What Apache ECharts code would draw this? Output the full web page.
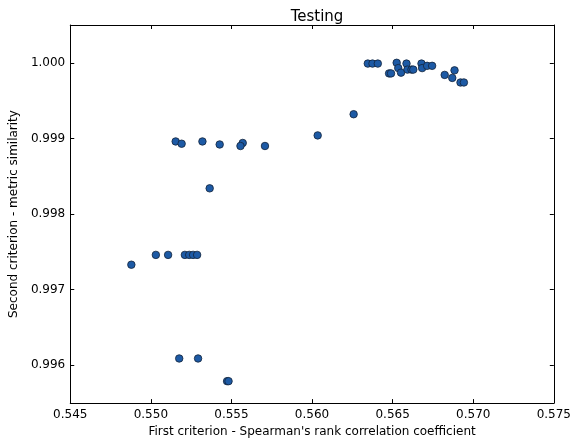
<!DOCTYPE html>
<html>
<head>
<meta charset="utf-8">
<script src="https://cdn.jsdelivr.net/npm/echarts@6/dist/echarts.min.js"></script>
<style>html,body{margin:0;padding:0;background:#fff}#c{width:574px;height:443px}</style>
</head>
<body>
<div id="c"></div>
<script>
const titleText = 'Testing';
const xName = "First criterion - Spearman's rank correlation coefficient";
const yName = 'Second criterion - metric similarity';
const xTicks = [0.545, 0.550, 0.555, 0.560, 0.565, 0.570, 0.575];
const yTicks = [0.996, 0.997, 0.998, 0.999, 1.000];
const xValues = [
  0.56346, 0.56375, 0.56408, 0.56478, 0.56490, 0.56525, 0.56535, 0.56552,
  0.56586, 0.56592, 0.56617, 0.56628, 0.56679, 0.56683, 0.56714, 0.56745,
  0.56823, 0.56884, 0.56870, 0.56921, 0.56942,
  0.55154, 0.55191, 0.55320, 0.55427, 0.55570, 0.55556, 0.55708, 0.56035, 0.56258, 0.55365,
  0.54879, 0.55031, 0.55107, 0.55211, 0.55238, 0.55262, 0.55287,
  0.55176, 0.55293, 0.55473, 0.55482
];
const yValues = [
  0.99999, 0.99999, 0.99999, 0.99986, 0.99986, 1.00000, 0.99993, 0.99987,
  0.99999, 0.99991, 0.99991, 0.99991, 0.99999, 0.99993, 0.99996, 0.99996,
  0.99984, 0.99990, 0.99980, 0.99974, 0.99974,
  0.99896, 0.99893, 0.99896, 0.99892, 0.99894, 0.99890, 0.99890, 0.99904, 0.99932, 0.99834,
  0.99733, 0.99746, 0.99746, 0.99746, 0.99746, 0.99746, 0.99746,
  0.99609, 0.99609, 0.99579, 0.99579
];
const points = xValues.map((x, i) => [x, yValues[i]]);

const font = 'DejaVu Sans';
const axisLine = { show: true, onZero: false, lineStyle: { color: '#000', width: 1 } };
const tickStyle = { show: true, inside: true, length: 4, lineStyle: { color: '#000', width: 1 } };

const chart = echarts.init(document.getElementById('c'), null, { renderer: 'canvas' });
chart.setOption({
  backgroundColor: '#ffffff',
  animation: false,
  title: {
    text: titleText, left: 312, top: 5, textAlign: 'center',
    textStyle: { fontFamily: font, fontSize: 15, fontWeight: 'normal', color: '#000' }
  },
  grid: { left: 69.5, right: 17.6, top: 25, bottom: 39, containLabel: false },
  xAxis: [
    {
      type: 'value', min: 0.545, max: 0.575, position: 'bottom',
      name: xName, nameLocation: 'middle', nameGap: 22,
      nameTextStyle: { fontFamily: font, fontSize: 12, color: '#000' },
      axisLine: axisLine,
      axisTick: Object.assign({}, tickStyle, { customValues: xTicks }),
      axisLabel: { customValues: xTicks, margin: 6, fontFamily: font, fontSize: 12, color: '#000',
        formatter: v => Number(v).toFixed(3) },
      splitLine: { show: false }
    },
    {
      type: 'value', min: 0.545, max: 0.575, position: 'top',
      axisLine: axisLine,
      axisTick: Object.assign({}, tickStyle, { customValues: xTicks }),
      axisLabel: { show: false },
      splitLine: { show: false }
    }
  ],
  yAxis: [
    {
      type: 'value', min: 0.9955, max: 1.0005, position: 'left',
      name: yName, nameLocation: 'middle', nameGap: 45, nameRotate: 90,
      nameTextStyle: { fontFamily: font, fontSize: 12, color: '#000' },
      axisLine: axisLine,
      axisTick: Object.assign({}, tickStyle, { customValues: yTicks }),
      axisLabel: { customValues: yTicks, margin: 5, fontFamily: font, fontSize: 12, color: '#000',
        formatter: v => Number(v).toFixed(3) },
      splitLine: { show: false }
    },
    {
      type: 'value', min: 0.9955, max: 1.0005, position: 'right',
      axisLine: axisLine,
      axisTick: Object.assign({}, tickStyle, { customValues: yTicks }),
      axisLabel: { show: false },
      splitLine: { show: false }
    }
  ],
  series: [{
    type: 'scatter', xAxisIndex: 0, yAxisIndex: 0,
    data: points, symbol: 'circle', symbolSize: 7.5,
    itemStyle: { color: '#1d5aa5', borderColor: '#13233a', borderWidth: 0.8, opacity: 1 }
  }]
});
</script>
</body>
</html>
